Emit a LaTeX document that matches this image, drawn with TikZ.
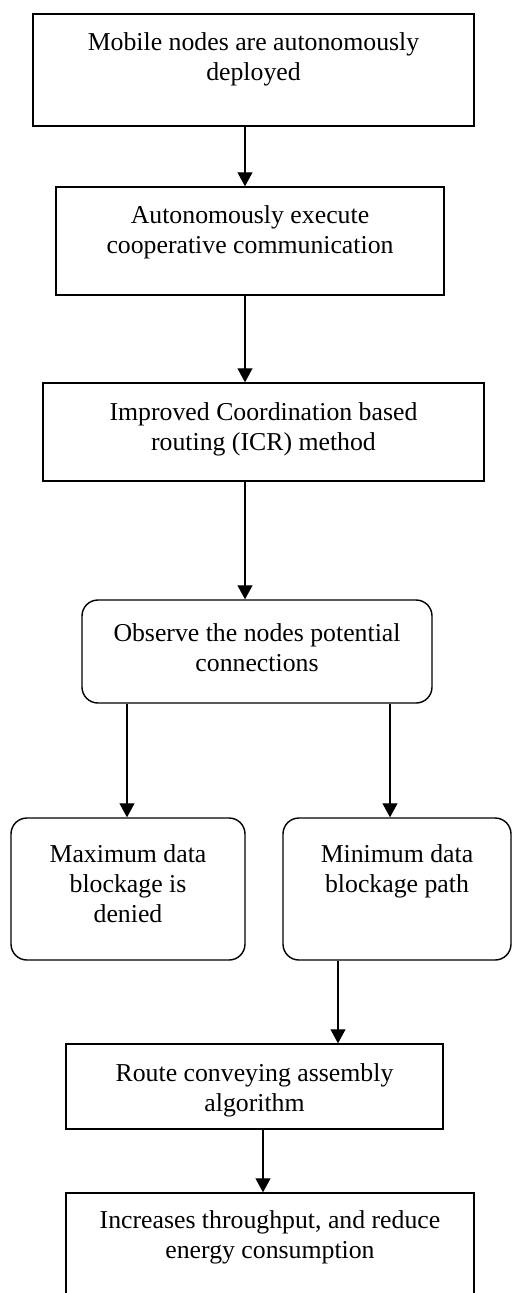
\documentclass[tikz,border=0pt]{standalone}
\usepackage{fontspec}
\setmainfont{Liberation Serif}
\usetikzlibrary{arrows.meta}

% one pixel of the reference
\newcommand{\px}{0.4268pt}

\begin{document}
\begin{tikzpicture}[x=\px, y=-\px, line width=0.6pt, >={Triangle[length=6pt,width=6.4pt]},
  stepbox/.style={draw, rectangle, inner sep=0pt},
  roundbox/.style={stepbox, rounded corners=6.8pt},
  boxtext/.style={anchor=north, align=center, inner sep=0pt, font=\fontsize{11}{12.8}\selectfont}]

\useasboundingbox (0,0) rectangle (512,1293);
\clip (0,0) rectangle (512,1293);

% Define the nodes with coordinates
\node[stepbox, minimum width=441*\px, minimum height=112*\px,
  label={[boxtext, yshift=-19*\px]north:{Mobile nodes are autonomously\\deployed}}] (MND) at (253.5,70) {};
\node[stepbox, minimum width=388*\px, minimum height=108*\px,
  label={[boxtext, yshift=-18.5*\px]north:{Autonomously execute\\cooperative communication}}] (ECC) at (250,241) {};
\node[stepbox, minimum width=441*\px, minimum height=98*\px,
  label={[boxtext, yshift=-19.5*\px]north:{Improved Coordination based\\routing (ICR) method}}] (ICR) at (263.5,432) {};
\node[roundbox, minimum width=350*\px, minimum height=103*\px,
  label={[boxtext, yshift=-24*\px]north:{Observe the nodes potential\\connections}}] (ONP) at (257,651.5) {};
\node[roundbox, minimum width=234*\px, minimum height=142*\px,
  label={[boxtext, yshift=-26.5*\px]north:{Maximum data\\blockage is\\denied}}] (MAX) at (128,889) {};
\node[roundbox, minimum width=228*\px, minimum height=142*\px,
  label={[boxtext, yshift=-26.5*\px]north:{Minimum data\\blockage path}}] (MIN) at (397,889) {};
\node[stepbox, minimum width=377*\px, minimum height=85*\px,
  label={[boxtext, yshift=-19.5*\px]north:{Route conveying assembly\\algorithm}}] (RCA) at (254.5,1086.5) {};
\node[stepbox, minimum width=408*\px, minimum height=117*\px,
  label={[boxtext, yshift=-17.5*\px]north:{Increases throughput, and reduce\\energy consumption}}] (ITR) at (270,1251.5) {};

% Draw the arrows
\draw[->] ([xshift=-8.5*\px]MND.south) coordinate (a1) -- (a1 |- ECC.north);
\draw[->] ([xshift=-5*\px]ECC.south) coordinate (a2) -- (a2 |- ICR.north);
\draw[->] ([xshift=-18.5*\px]ICR.south) coordinate (a3) -- (a3 |- ONP.north);
\draw[->] ([xshift=-130*\px]ONP.south) coordinate (a4) -- (a4 |- MAX.north);
\draw[->] ([xshift=133*\px]ONP.south) coordinate (a5) -- (a5 |- MIN.north);
\draw[->] ([xshift=-59*\px]MIN.south) coordinate (a6) -- (a6 |- RCA.north);
\draw[->] ([xshift=8.5*\px]RCA.south) coordinate (a7) -- (a7 |- ITR.north);

\end{tikzpicture}
\end{document}
